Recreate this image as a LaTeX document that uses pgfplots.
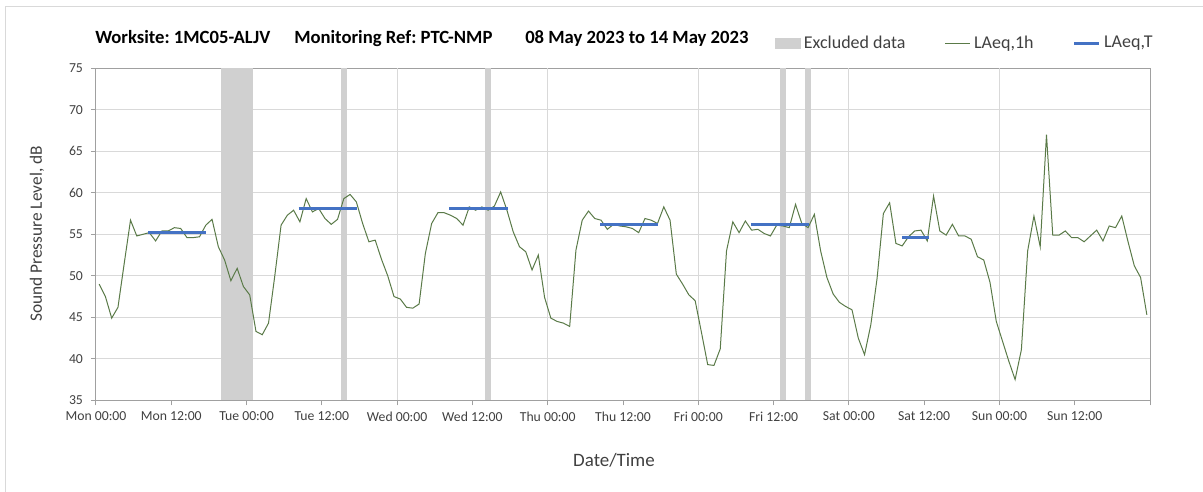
\documentclass[border=0pt]{standalone}
\usepackage{fontspec}
\setmainfont{Carlito}
\usepackage{pgfplots}
\pgfplotsset{compat=1.18}
\frenchspacing
\definecolor{lineg}{HTML}{5A7A48}
\definecolor{lineb}{HTML}{4472C4}
\definecolor{band}{HTML}{D0D0D0}
\definecolor{gridc}{HTML}{D9D9D9}
\definecolor{axc}{HTML}{A0A0A0}
\definecolor{txt}{HTML}{404040}
\pgfplotsset{
  linelegend/.style={legend image code/.code={\draw[##1,line cap=butt] (0pt,0pt) -- (18.75pt,0pt);}},
  boxlegend/.style={legend image code/.code={\fill[band] (0pt,-3.75pt) rectangle (18.75pt,3.75pt);}},
}
\pgfplotstableread{
h y
0.5 49.0
1.5 47.5
2.5 44.9
3.5 46.2
4.5 51.5
5.5 56.7
6.5 54.8
7.5 55.0
8.5 55.2
9.5 54.2
10.5 55.4
11.5 55.4
12.5 55.8
13.5 55.7
14.5 54.6
15.5 54.6
16.5 54.7
17.5 56.1
18.5 56.8
19.5 53.5
20.5 51.9
21.5 49.4
22.5 50.9
23.5 48.7
24.5 47.7
25.5 43.3
26.5 42.9
27.5 44.3
28.5 50.0
29.5 56.1
30.5 57.3
31.5 57.9
32.5 56.5
33.5 59.3
34.5 57.7
35.5 58.1
36.5 56.9
37.5 56.2
38.5 56.8
39.5 59.3
40.5 59.8
41.5 58.9
42.5 56.3
43.5 54.1
44.5 54.3
45.5 52.0
46.5 50.0
47.5 47.5
48.5 47.2
49.5 46.2
50.5 46.1
51.5 46.6
52.5 52.7
53.5 56.3
54.5 57.6
55.5 57.6
56.5 57.3
57.5 56.9
58.5 56.1
59.5 58.3
60.5 57.9
61.5 58.3
62.5 57.9
63.5 58.4
64.5 60.1
65.5 57.9
66.5 55.3
67.5 53.5
68.5 52.9
69.5 50.7
70.5 52.5
71.5 47.4
72.5 44.9
73.5 44.5
74.5 44.3
75.5 43.9
76.5 53.1
77.5 56.7
78.5 57.8
79.5 56.9
80.5 56.7
81.5 55.6
82.5 56.2
83.5 56.0
84.5 55.9
85.5 55.7
86.5 55.2
87.5 56.9
88.5 56.7
89.5 56.3
90.5 58.3
91.5 56.7
92.5 50.2
93.5 49.0
94.5 47.7
95.5 47.0
96.5 43.2
97.5 39.3
98.5 39.2
99.5 41.2
100.5 53.0
101.5 56.5
102.5 55.2
103.5 56.6
104.5 55.5
105.5 55.6
106.5 55.1
107.5 54.8
108.5 56.1
109.5 56.0
110.5 55.8
111.5 58.6
112.5 56.3
113.5 55.8
114.5 57.4
115.5 53.0
116.5 49.8
117.5 47.8
118.5 46.8
119.5 46.3
120.5 45.9
121.5 42.5
122.5 40.5
123.5 44.1
124.5 49.7
125.5 57.5
126.5 58.8
127.5 53.9
128.5 53.6
129.5 54.7
130.5 55.4
131.5 55.5
132.5 54.2
133.5 59.6
134.5 55.4
135.5 54.9
136.5 56.2
137.5 54.8
138.5 54.8
139.5 54.4
140.5 52.3
141.5 51.9
142.5 49.2
143.5 44.5
144.5 42.1
145.5 39.7
146.5 37.5
147.5 41.1
148.5 53.0
149.5 57.2
150.5 53.5
151.5 67.0
152.5 54.9
153.5 54.9
154.5 55.4
155.5 54.6
156.5 54.6
157.5 54.1
158.5 54.8
159.5 55.5
160.5 54.2
161.5 56.0
162.5 55.8
163.5 57.2
164.5 54.1
165.5 51.2
166.5 49.8
167.5 45.3
}\laeqh
\begin{document}
\begin{tikzpicture}
\useasboundingbox (0pt,0pt) rectangle (902.25pt,369pt);
\draw[gridc, line width=0.75pt] (3.75pt,-4pt) -- (3.75pt,363.75pt) -- (910pt,363.75pt);
\begin{axis}[
  at={(72pt,68.775pt)}, anchor=south west,
  width=790.5pt, height=249pt, scale only axis,
  xmin=0, xmax=168, ymin=35, ymax=75,
  xtick={0,12,...,168},
  xticklabels={Mon 00:00,Mon 12:00,Tue 00:00,Tue 12:00,Wed 00:00,Wed 12:00,Thu 00:00,Thu 12:00,Fri 00:00,Fri 12:00,Sat 00:00,Sat 12:00,Sun 00:00,Sun 12:00,{}},
  ytick={35,40,...,75},
  ymajorgrids, major grid style={gridc, line width=0.75pt},
  extra x ticks={24,48,72,96,120,144},
  extra x tick labels={},
  extra x tick style={grid=major, major tick length=0pt},
  xtick pos=bottom, ytick pos=left, tick align=outside,
  major tick length=3.75pt,
  axis line style={axc, line width=0.75pt},
  tick style={axc, line width=0.75pt},
  /pgf/number format/assume math mode=true,
  ticklabel style={font=\fontsize{10.3}{12}\selectfont, text=txt},
  xticklabel style={yshift=-1.5pt},
  yticklabel style={xshift=-2.5pt},
  legend columns=3,
  legend style={draw=none, fill=none, at={(rel axis cs:0.644,1.076)}, anchor=west,
    inner sep=0pt, font=\fontsize{13.5}{15}\selectfont, text=txt,
    nodes={inner sep=0pt},
    /tikz/every odd column/.append style={column sep=2.5pt},
    /tikz/every even column/.append style={column sep=29.4pt}},
]
\addlegendimage{boxlegend}
\addlegendentry{Excluded data}
\addlegendimage{linelegend, lineg, line width=0.75pt}
\addlegendentry{LAeq,1h}
\addlegendimage{linelegend, lineb, line width=2.25pt}
\addlegendentry{LAeq,T}
% excluded data bands
\addplot[fill=band, draw=none, forget plot] coordinates {(20,75) (25,75)} \closedcycle;
\addplot[fill=band, draw=none, forget plot] coordinates {(39,75) (40,75)} \closedcycle;
\addplot[fill=band, draw=none, forget plot] coordinates {(62,75) (63,75)} \closedcycle;
\addplot[fill=band, draw=none, forget plot] coordinates {(109,75) (110,75)} \closedcycle;
\addplot[fill=band, draw=none, forget plot] coordinates {(113,75) (114,75)} \closedcycle;
% hourly
\addplot[lineg, line width=0.75pt, forget plot] table[x=h, y=y] {\laeqh};
% period LAeq,T
\addplot[lineb, line width=2.25pt, forget plot] coordinates {(8.3,55.2) (17.6,55.2)};
\addplot[lineb, line width=2.25pt, forget plot] coordinates {(32.3,58.1) (41.6,58.1)};
\addplot[lineb, line width=2.25pt, forget plot] coordinates {(56.3,58.1) (65.6,58.1)};
\addplot[lineb, line width=2.25pt, forget plot] coordinates {(80.4,56.2) (89.6,56.2)};
\addplot[lineb, line width=2.25pt, forget plot] coordinates {(104.4,56.2) (113.7,56.2)};
\addplot[lineb, line width=2.25pt, forget plot] coordinates {(128.5,54.6) (132.7,54.6)};
\end{axis}
\node[anchor=base west, inner sep=0pt, font=\fontsize{14}{16}\selectfont\bfseries] at (71.25pt,336pt) {Worksite: 1MC05-ALJV};
\node[anchor=base west, inner sep=0pt, font=\fontsize{14}{16}\selectfont\bfseries] at (220.5pt,336pt) {Monitoring Ref: PTC-NMP};
\node[anchor=base west, inner sep=0pt, font=\fontsize{14}{16}\selectfont\bfseries] at (393.75pt,336pt) {08 May 2023 to 14 May 2023};
\node[rotate=90, inner sep=0pt, font=\fontsize{13}{15}\selectfont, text=txt] at (27.75pt,193.5pt) {Sound Pressure Level, dB};
\node[inner sep=0pt, font=\fontsize{14.2}{16}\selectfont, text=txt] at (460.5pt,24pt) {Date/Time};
\end{tikzpicture}
\end{document}
